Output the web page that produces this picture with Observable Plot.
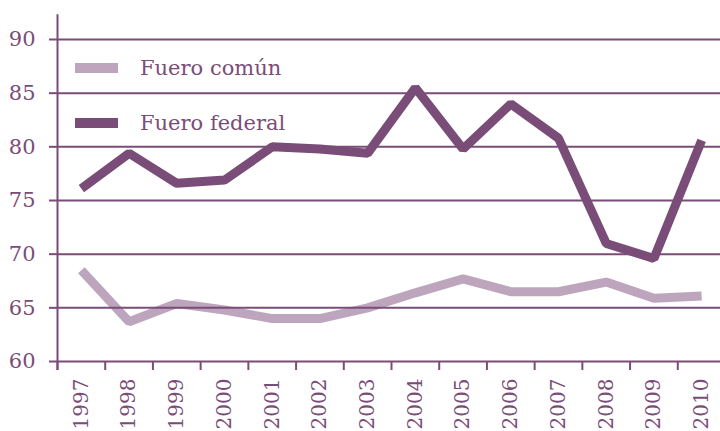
<!DOCTYPE html>
<html>
<head>
<meta charset="utf-8">
<script src="https://cdn.jsdelivr.net/npm/d3@7"></script>
<script src="https://cdn.jsdelivr.net/npm/@observablehq/plot@0.6"></script>
<style>
  html, body { margin: 0; padding: 0; background: #fff; }
  #wrap { position: relative; width: 720px; height: 431px; overflow: hidden; }
  #legend { position: absolute; left: 75px; top: 40px; font-family: "DejaVu Serif", serif; font-size: 21px; color: #7a4d78; }
  .item { display: flex; align-items: center; height: 55px; }
  .sw { width: 43px; height: 10px; margin-right: 22px; }
</style>
</head>
<body>
<div id="wrap"><div id="legend"></div></div>
<script>
const years = [1997,1998,1999,2000,2001,2002,2003,2004,2005,2006,2007,2008,2009,2010];
const fueroComun   = [68.5,63.7,65.4,64.8,64.0,64.0,65.0,66.4,67.7,66.5,66.5,67.4,65.9,66.1];
const fueroFederal = [76.1,79.4,76.6,76.9,80.0,79.8,79.4,85.5,79.8,84.0,80.8,71.0,69.6,80.6];
const yTicks = [60,65,70,75,80,85,90];
const seriesNames = ["Fuero común", "Fuero federal"];
const seriesColors = ["#bea5be", "#7a4d78"];
const yAxisTop = 92.3;

const data = [];
years.forEach((y, i) => {
  data.push({year: y, value: fueroComun[i], serie: seriesNames[0]});
  data.push({year: y, value: fueroFederal[i], serie: seriesNames[1]});
});
const boundaries = years.map(y => y - 0.5);
const ink = "#7a4d78";

const chart = Plot.plot({
  width: 720,
  height: 431,
  marginLeft: 57,
  marginRight: 0,
  marginTop: 39,
  marginBottom: 70,
  style: {fontFamily: "DejaVu Serif, serif", fontSize: "21px", color: ink, background: "transparent", overflow: "visible"},
  x: {domain: [1996.5, 2010.5], range: [57, 725]},
  y: {domain: [60, 90], range: [361, 39]},
  color: {domain: seriesNames, range: seriesColors},
  marks: [
    Plot.line(data, {x: "year", y: "value", z: "serie", stroke: "serie", strokeWidth: 9, strokeLinejoin: "miter", strokeLinecap: "butt"}),
    Plot.ruleY(yTicks, {stroke: ink, strokeWidth: 2}),
    Plot.ruleX([1996.5], {y1: 60, y2: yAxisTop, stroke: ink, strokeWidth: 2}),
    Plot.axisY({ticks: yTicks, tickSize: 8, tickPadding: 14, stroke: ink, strokeWidth: 2, label: null, fontSize: 21}),
    Plot.axisX({ticks: boundaries.concat([1996.5]), tickSize: 9, tickFormat: () => "", stroke: ink, strokeWidth: 2, label: null}),
    Plot.axisX({ticks: years, tickSize: 0, tickPadding: 17, tickRotate: -90, tickFormat: d => String(d), label: null, fontSize: 20})
  ]
});
document.getElementById("wrap").prepend(chart);

const legend = document.getElementById("legend");
seriesNames.forEach((n, i) => {
  const it = document.createElement("div");
  it.className = "item";
  const sw = document.createElement("div");
  sw.className = "sw";
  sw.style.background = seriesColors[i];
  const t = document.createElement("span");
  t.textContent = n;
  it.appendChild(sw); it.appendChild(t);
  legend.appendChild(it);
});
</script>
</body>
</html>
